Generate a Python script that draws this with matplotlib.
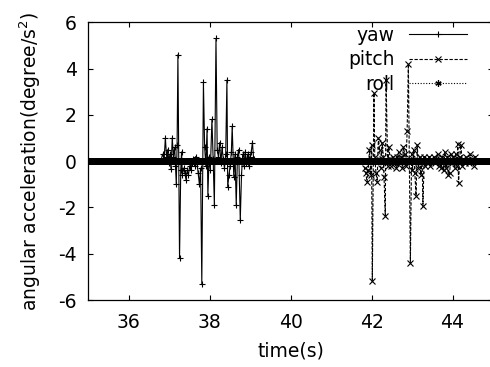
import numpy as np
import matplotlib
matplotlib.use("Agg")
import matplotlib.pyplot as plt

# ---- data ----
yaw_t = [36.80, 36.84, 36.88, 36.91, 36.94, 36.97, 37.00, 37.02, 37.05, 37.08,
         37.11, 37.14, 37.16, 37.18, 37.20, 37.22, 37.26, 37.29, 37.31, 37.33,
         37.36, 37.39, 37.42, 37.45, 37.48, 37.51, 37.54, 37.57, 37.60, 37.63,
         37.66, 37.69, 37.72, 37.75, 37.78, 37.81, 37.85, 37.88, 37.91, 37.94,
         37.96, 37.99, 38.02, 38.06, 38.09, 38.12, 38.16, 38.19, 38.22, 38.25,
         38.28, 38.31, 38.34, 38.37, 38.40, 38.43, 38.45, 38.48, 38.51, 38.54,
         38.56, 38.60, 38.63, 38.66, 38.69, 38.72, 38.76, 38.79, 38.82, 38.85,
         38.88, 38.91, 38.94, 38.97, 39.00, 39.03, 39.06, 39.09, 39.12]
yaw_v = [0.0, 0.3, 0.1, 1.0, 0.2, 0.5, -0.1, 0.3, -0.35, 1.0,
         0.2, 0.6, -0.2, -1.0, 0.7, 4.6, -4.2, -0.4, 0.4, -0.6,
         -0.3, -0.5, -0.8, -0.4, -0.6, -0.2, -0.4, -0.1, 0.1, -0.2,
         0.2, -0.1, -0.5, -1.0, -0.3, -5.3, 3.4, 0.6, -0.2, 1.4,
         -1.5, 0.2, -0.4, 1.8, 0.1, -1.9, 5.3, 0.5, 0.2, 0.8,
         -0.1, 0.6, 0.1, -0.3, 0.3, 3.5, -1.1, -0.6, -0.2, 0.4,
         1.5, -0.7, 0.3, -1.9, 0.2, 0.5, -2.55, -0.6, 0.3, -0.2,
         0.4, -0.1, 0.3, -0.2, 0.2, 0.4, 0.8, 0.1, 0.0]

pitch_t = [41.80, 41.83, 41.86, 41.89, 41.92, 41.95, 41.98, 42.00, 42.02, 42.06,
           42.08, 42.11, 42.14, 42.17, 42.20, 42.23, 42.26, 42.29, 42.31, 42.34,
           42.36, 42.40, 42.43, 42.46, 42.49, 42.52, 42.55, 42.58, 42.61, 42.64,
           42.67, 42.70, 42.73, 42.76, 42.79, 42.82, 42.85, 42.88, 42.91, 42.96,
           42.99, 43.01, 43.04, 43.07, 43.10, 43.13, 43.16, 43.19, 43.22, 43.25,
           43.27, 43.30, 43.33, 43.36, 43.39, 43.42, 43.45, 43.48, 43.51, 43.54,
           43.57, 43.60, 43.63, 43.66, 43.69, 43.72, 43.75, 43.78, 43.81, 43.84,
           43.87, 43.90, 43.93, 43.96, 43.99, 44.02, 44.05, 44.08, 44.11, 44.13,
           44.15, 44.18, 44.21, 44.24, 44.27, 44.30, 44.33, 44.36, 44.40, 44.44,
           44.48, 44.52, 44.56, 44.60]
pitch_v = [0.0, -0.3, -0.5, -0.9, -0.4, 0.5, -0.6, 0.7, -5.2, 2.95,
           0.2, -0.5, -0.9, 1.0, 0.5, -0.3, 0.8, 0.2, -0.7, -2.35,
           3.5, -0.2, 0.6, 0.1, -0.2, 0.2, 0.1, -0.1, -0.3, 0.2,
           0.4, -0.1, 0.2, -0.3, 0.6, 0.3, -0.2, 1.3, 4.2, -4.4,
           0.3, -0.4, 0.5, -0.5, -1.5, 0.7, -0.3, 0.2, -0.6, 0.1,
           -1.95, 0.2, -0.2, 0.1, -0.1, 0.2, -0.2, 0.1, 0.0, 0.2,
           -0.1, 0.1, 0.3, -0.2, 0.1, -0.3, 0.2, -0.4, 0.4, -0.3,
           0.2, -0.6, -0.5, 0.3, -0.1, 0.2, -0.3, 0.3, -0.2, 0.76,
           -0.95, 0.2, 0.7, -0.2, 0.1, -0.1, 0.2, 0.0, -0.1, 0.3,
           0.1, -0.2, 0.2, 0.0]

roll_t = []
roll_v = []

baseline_start, baseline_stop, baseline_step = 34.9, 45.3, 0.02
x_ticks = [36, 38, 40, 42, 44]
y_ticks = [-6, -4, -2, 0, 2, 4, 6]


def with_baseline(t_active, v_active):
    grid = np.arange(baseline_start, baseline_stop, baseline_step)
    if len(t_active):
        mask = (grid < min(t_active)) | (grid > max(t_active))
    else:
        mask = np.ones_like(grid, dtype=bool)
    t = np.concatenate([grid[mask], np.array(t_active, dtype=float)])
    v = np.concatenate([np.zeros(mask.sum()), np.array(v_active, dtype=float)])
    order = np.argsort(t, kind="stable")
    return t[order], v[order]


plt.rcParams['font.family'] = ['DejaVu Sans']
plt.rcParams['axes.unicode_minus'] = False
fig = plt.figure(figsize=(4.9, 3.67), dpi=100)
W, H = 490, 367
ax = fig.add_axes([88 / W, 1 - 300 / H, (493 - 88) / W, (300 - 22.3) / H])

fs = 13.5
t, v = with_baseline(roll_t, roll_v)
ax.plot(t, v, color='black', lw=0.8, ls=(0, (1, 1.5)), marker=(6, 2, 0),
        ms=4.5, mew=0.9, label='roll', zorder=2)
t, v = with_baseline(pitch_t, pitch_v)
ax.plot(t, v, color='black', lw=0.8, ls=(0, (3, 1.5)), marker='x',
        ms=4, mew=0.8, label='pitch', zorder=3)
t, v = with_baseline(yaw_t, yaw_v)
ax.plot(t, v, color='black', lw=0.8, ls='-', marker='+',
        ms=5, mew=0.8, label='yaw', zorder=4)

ax.set_xlim(35, 45)
ax.set_ylim(-6, 6)
ax.set_xticks(x_ticks)
ax.set_yticks(y_ticks)
ax.tick_params(direction='in', top=True, right=True, length=3.5, width=0.8,
               labelsize=fs)
ax.tick_params(axis='x', pad=9)
ax.tick_params(axis='y', pad=8)
for s in ax.spines.values():
    s.set_linewidth(0.9)

ax.set_xlabel('time(s)', fontsize=fs, labelpad=7)
ax.set_ylabel('angular acceleration(degree/s$^2$)', fontsize=fs, labelpad=11)

handles, labels = ax.get_legend_handles_labels()
order = [labels.index('yaw'), labels.index('pitch'), labels.index('roll')]
leg = ax.legend([handles[i] for i in order], [labels[i] for i in order],
                loc='upper right', bbox_to_anchor=(467 / W, 1 - 26 / H),
                bbox_transform=fig.transFigure, frameon=False, markerfirst=False,
                handlelength=3.1, handletextpad=0.75, labelspacing=0.28,
                borderpad=0, borderaxespad=0, fontsize=fs)

fig.savefig('out.png', dpi=100)
